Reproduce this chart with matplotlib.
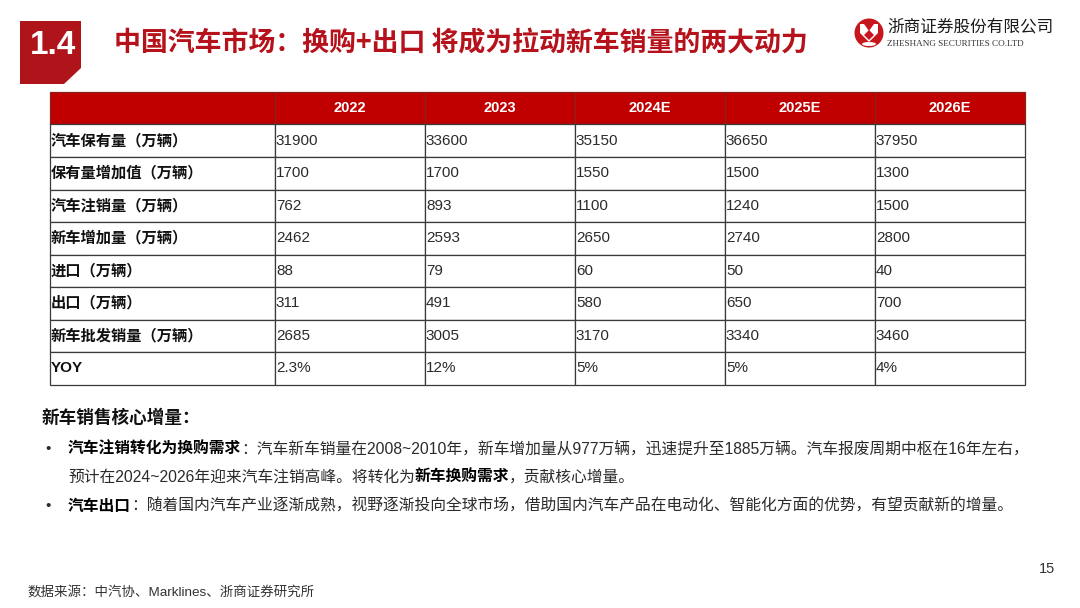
import matplotlib
matplotlib.use("Agg")
import matplotlib.pyplot as plt
from matplotlib.patches import Polygon, Circle, Ellipse

W, H = 1080, 608
CJK = ['Liberation Sans', 'Noto Sans CJK SC', 'DejaVu Sans']
CJK_ONLY = ['Noto Sans CJK SC', 'DejaVu Sans']

# ---------------- data ----------------
section_no = "1.4"
title = "中国汽车市场：换购+出口 将成为拉动新车销量的两大动力"
years = ["2022", "2023", "2024E", "2025E", "2026E"]
row_labels = ["汽车保有量（万辆）", "保有量增加值（万辆）", "汽车注销量（万辆）",
              "新车增加量（万辆）", "进口（万辆）", "出口（万辆）",
              "新车批发销量（万辆）", "YOY"]
parc = ["31900", "33600", "35150", "36650", "37950"]
parc_increase = ["1700", "1700", "1550", "1500", "1300"]
scrappage = ["762", "893", "1100", "1240", "1500"]
new_car_increase = ["2462", "2593", "2650", "2740", "2800"]
imports = ["88", "79", "60", "50", "40"]
exports = ["311", "491", "580", "650", "700"]
wholesale = ["2685", "3005", "3170", "3340", "3460"]
yoy = ["2.3%", "12%", "5%", "5%", "4%"]
table_rows = [parc, parc_increase, scrappage, new_car_increase,
              imports, exports, wholesale, yoy]

subhead = "新车销售核心增量："
bullet1_line1 = [("汽车注销转化为换购需求", True),
                 ("：汽车新车销量在2008~2010年，新车增加量从977万辆，迅速提升至1885万辆。汽车报废周期中枢在16年左右，", False)]
bullet1_line2 = [("预计在2024~2026年迎来汽车注销高峰。将转化为", False),
                 ("新车换购需求", True), ("，贡献核心增量。", False)]
bullet2_line1 = [("汽车出口", True),
                 ("：随着国内汽车产业逐渐成熟，视野逐渐投向全球市场，借助国内汽车产品在电动化、智能化方面的优势，有望贡献新的增量。", False)]
source = "数据来源：中汽协、Marklines、浙商证券研究所"
page_no = "15"
company_cn = "浙商证券股份有限公司"
company_en = "ZHESHANG SECURITIES CO.LTD"

RED = "#C00000"
TITLE_RED = "#B5121B"
TEXT = "#2b2b2b"

# ---------------- figure ----------------
fig = plt.figure(figsize=(W / 100, H / 100), dpi=100)
ax = fig.add_axes([0, 0, 1, 1])
ax.set_xlim(0, W)
ax.set_ylim(H, 0)
ax.axis("off")

# section box with cut corner
ax.add_patch(Polygon([(20, 21), (81, 21), (81, 68), (64, 84), (20, 84)],
                     closed=True, facecolor="#B0141B", edgecolor="none"))
ax.text(53, 46, section_no, color="white", fontsize=24, fontweight="bold",
        family=['Liberation Sans'], ha="center", va="center")

# title
ax.text(114, 43, title, color=TITLE_RED, fontsize=19.4, fontweight="bold",
        family=CJK_ONLY, ha="left", va="center")

# logo
ax.add_patch(Circle((869, 33), 14.5, facecolor="#C8161D", edgecolor="none"))
ax.add_patch(Polygon([(860, 24), (864, 24), (869, 31), (874, 24), (878, 24),
                      (878, 33), (869, 42), (860, 33)], closed=True,
                     facecolor="white", edgecolor="none"))
ax.add_patch(Polygon([(869, 30), (874, 35), (869, 40), (864, 35)], closed=True,
                     facecolor="#C8161D", edgecolor="none"))
ax.add_patch(Ellipse((869, 44), 14, 4, facecolor="white", edgecolor="none"))
ax.text(887, 27, company_cn, color="#1a1a1a", fontsize=12.0, family=CJK_ONLY,
        ha="left", va="center")
ax.text(887, 43.5, company_en, color="#333333", fontsize=6.6,
        family=['Liberation Serif'], ha="left", va="center")

# ---------------- table ----------------
x0, x1, y0, y1 = 50, 1025, 92, 384.5
tax = fig.add_axes([x0 / W, 1 - y1 / H, (x1 - x0) / W, (y1 - y0) / H])
tax.axis("off")
cell_text = [[lab] + vals for lab, vals in zip(row_labels, table_rows)]
col_labels = [""] + years
col_w = [225, 150, 150, 150, 150, 150]
tot = sum(col_w)
tbl = tax.table(cellText=cell_text, colLabels=col_labels,
                colWidths=[c / tot for c in col_w], bbox=[0, 0, 1, 1],
                cellLoc="left")
tbl.auto_set_font_size(False)
for (r, c), cell in tbl.get_celld().items():
    cell.set_edgecolor("#3a3a3a")
    cell.set_linewidth(0.9)
    t = cell.get_text()
    if r == 0:
        cell.set_facecolor(RED)
        cell.set_edgecolor("#8a2020")
        t.set_color("white")
        t.set_fontweight("bold")
        t.set_fontsize(10.5)
        t.set_family(['Liberation Sans'])
        t.set_ha("center")
        cell._loc = "center"
    else:
        cell.set_facecolor("white")
        cell.PAD = 0.004 if c == 0 else 0.006
        t.set_color("#111111" if c == 0 else TEXT)
        t.set_fontsize(11)
        t.set_family(CJK)
        if c == 0:
            t.set_fontweight("bold")

# ---------------- body text ----------------
def rich(x, y, parts, size=11.35):
    prev = None
    for txt, bold in parts:
        kw = dict(fontsize=size, family=CJK,
                  fontweight="bold" if bold else "normal",
                  color="black" if bold else TEXT)
        if prev is None:
            prev = ax.text(x, y, txt, ha="left", va="center", **kw)
        else:
            prev = ax.annotate(txt, xy=(1, 0), xycoords=prev, ha="left",
                               va="bottom", **kw)
    return prev

ax.text(42, 418, subhead, fontsize=12.7, fontweight="bold", family=CJK_ONLY,
        color="#111111", ha="left", va="center")
ax.text(45, 449, "•", fontsize=11, color=TEXT, family=['Liberation Sans'],
        ha="left", va="center")
ax.text(45, 506, "•", fontsize=11, color=TEXT, family=['Liberation Sans'],
        ha="left", va="center")
rich(68, 449, bullet1_line1)
rich(68, 477, bullet1_line2)
rich(68, 506, bullet2_line1)

# footer
ax.text(28, 592, source, fontsize=9.7, family=CJK, color="#333333",
        ha="left", va="center")
ax.text(1055, 569, page_no, fontsize=10.5, family=['Liberation Sans'],
        color="#333333", ha="right", va="center")

fig.savefig("out.png", dpi=100, facecolor="white")
